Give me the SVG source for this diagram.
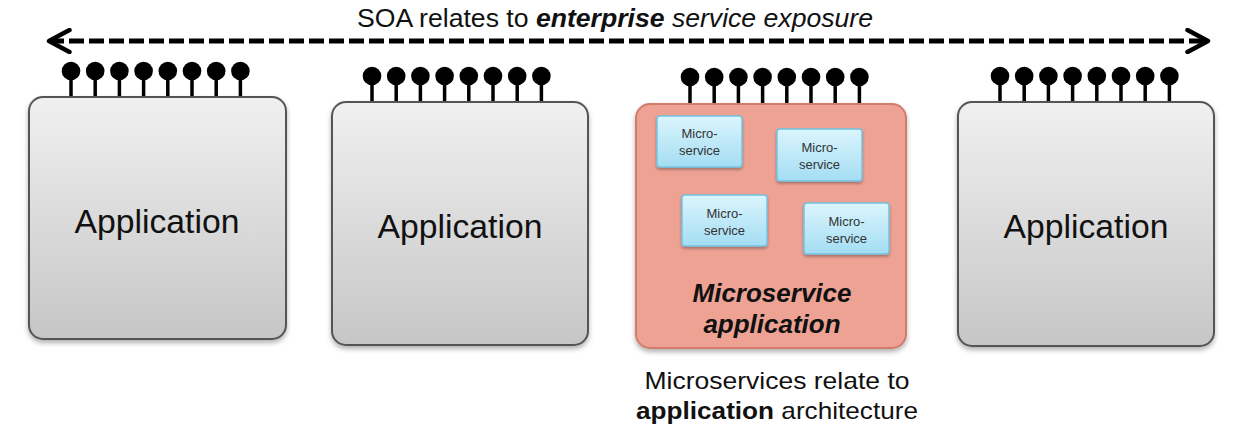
<svg xmlns="http://www.w3.org/2000/svg" width="1240" height="448" viewBox="0 0 1240 448">
<defs>
  <linearGradient id="gGray" x1="0" y1="0" x2="0" y2="1">
    <stop offset="0" stop-color="#f0f0f0"/>
    <stop offset="1" stop-color="#c6c6c6"/>
  </linearGradient>
  <linearGradient id="gCyan" x1="0" y1="0" x2="0" y2="1">
    <stop offset="0" stop-color="#dbf5fd"/>
    <stop offset="1" stop-color="#a4ddf3"/>
  </linearGradient>
  <filter id="shadow" x="-10%" y="-10%" width="120%" height="125%">
    <feDropShadow dx="0" dy="3" stdDeviation="2.5" flood-color="#000" flood-opacity="0.3"/>
  </filter>
  <filter id="shadowS" x="-10%" y="-10%" width="120%" height="130%">
    <feDropShadow dx="0" dy="2" stdDeviation="1.5" flood-color="#000" flood-opacity="0.3"/>
  </filter>
  <marker id="chev" viewBox="0 0 26 26" refX="23" refY="13" markerWidth="26" markerHeight="26" markerUnits="userSpaceOnUse" orient="auto-start-reverse">
    <path d="M2.5,2 L23,13 L2.5,24" fill="none" stroke="#000" stroke-width="4.5" stroke-linecap="round" stroke-linejoin="round"/>
  </marker>
  <g id="pops">
    <g stroke="#000" stroke-width="3.5">
      <line x1="0" y1="0" x2="0" y2="27"/>
      <line x1="24.2" y1="0" x2="24.2" y2="27"/>
      <line x1="48.4" y1="0" x2="48.4" y2="27"/>
      <line x1="72.6" y1="0" x2="72.6" y2="27"/>
      <line x1="96.8" y1="0" x2="96.8" y2="27"/>
      <line x1="121" y1="0" x2="121" y2="27"/>
      <line x1="145.2" y1="0" x2="145.2" y2="27"/>
      <line x1="169.4" y1="0" x2="169.4" y2="27"/>
    </g>
    <g fill="#000">
      <circle cx="0" cy="0" r="9.3"/>
      <circle cx="24.2" cy="0" r="9.3"/>
      <circle cx="48.4" cy="0" r="9.3"/>
      <circle cx="72.6" cy="0" r="9.3"/>
      <circle cx="96.8" cy="0" r="9.3"/>
      <circle cx="121" cy="0" r="9.3"/>
      <circle cx="145.2" cy="0" r="9.3"/>
      <circle cx="169.4" cy="0" r="9.3"/>
    </g>
  </g>
</defs>
<style>
  .app { fill: url(#gGray); stroke: #555; stroke-width: 2; }
  .apptxt { font-family: "Liberation Sans", Arial, sans-serif; font-size: 33px; fill: #111; text-anchor: middle; }
  .ms { fill: url(#gCyan); stroke: #72c3e2; stroke-width: 1.5; }
  .mstxt { font-family: "Liberation Sans", Arial, sans-serif; font-size: 13px; fill: #333; text-anchor: middle; }
  .t { font-family: "Liberation Sans", Arial, sans-serif; fill: #111; text-anchor: middle; }
</style>
<rect width="1240" height="448" fill="#fff"/>

<g id="connectors">
  <line x1="49" y1="41" x2="1208" y2="41" stroke="#000" stroke-width="5" stroke-dasharray="15 5" marker-start="url(#chev)" marker-end="url(#chev)"/>
</g>

<text id="title" class="t" x="615" y="27" font-size="25" textLength="516" lengthAdjust="spacingAndGlyphs">SOA relates to <tspan font-weight="bold" font-style="italic">enterprise</tspan><tspan font-style="italic"> service exposure</tspan></text>

<g id="app1">
  <use href="#pops" x="71" y="71"/>
  <rect class="app" x="29" y="97" width="257" height="242" rx="14" filter="url(#shadow)"/>
  <text class="apptxt" x="157" y="233" textLength="165" lengthAdjust="spacingAndGlyphs">Application</text>
</g>

<g id="app2">
  <use href="#pops" x="372" y="76"/>
  <rect class="app" x="332" y="102" width="256" height="243" rx="14" filter="url(#shadow)"/>
  <text class="apptxt" x="460" y="238" textLength="165" lengthAdjust="spacingAndGlyphs">Application</text>
</g>

<g id="msapp">
  <use href="#pops" x="690" y="77"/>
  <rect x="636" y="104" width="270" height="244" rx="14" fill="#eea294" stroke="#d27c6d" stroke-width="2" filter="url(#shadow)"/>
  <text class="t" x="772" y="302" font-size="26" font-weight="bold" font-style="italic">Microservice</text>
  <text class="t" x="772" y="333" font-size="26" font-weight="bold" font-style="italic">application</text>
</g>

<g id="ms1">
  <rect class="ms" x="657" y="116" width="85" height="51" rx="3" filter="url(#shadowS)"/>
  <text class="mstxt" x="699.5" y="138">Micro-</text>
  <text class="mstxt" x="699.5" y="155">service</text>
</g>
<g id="ms2">
  <rect class="ms" x="777" y="129" width="85" height="52" rx="3" filter="url(#shadowS)"/>
  <text class="mstxt" x="819.5" y="152">Micro-</text>
  <text class="mstxt" x="819.5" y="169">service</text>
</g>
<g id="ms3">
  <rect class="ms" x="682" y="195" width="85" height="51" rx="3" filter="url(#shadowS)"/>
  <text class="mstxt" x="724.5" y="218">Micro-</text>
  <text class="mstxt" x="724.5" y="235">service</text>
</g>
<g id="ms4">
  <rect class="ms" x="804" y="203" width="85" height="51" rx="3" filter="url(#shadowS)"/>
  <text class="mstxt" x="846.5" y="226">Micro-</text>
  <text class="mstxt" x="846.5" y="243">service</text>
</g>

<g id="app4">
  <use href="#pops" x="1000" y="76"/>
  <rect class="app" x="958" y="102" width="256" height="244" rx="14" filter="url(#shadow)"/>
  <text class="apptxt" x="1086" y="238" textLength="165" lengthAdjust="spacingAndGlyphs">Application</text>
</g>

<g id="caption">
  <text class="t" x="777" y="389" font-size="24" textLength="265" lengthAdjust="spacingAndGlyphs">Microservices relate to</text>
  <text class="t" x="777" y="419" font-size="24" textLength="282" lengthAdjust="spacingAndGlyphs"><tspan font-weight="bold">application</tspan> architecture</text>
</g>
</svg>
